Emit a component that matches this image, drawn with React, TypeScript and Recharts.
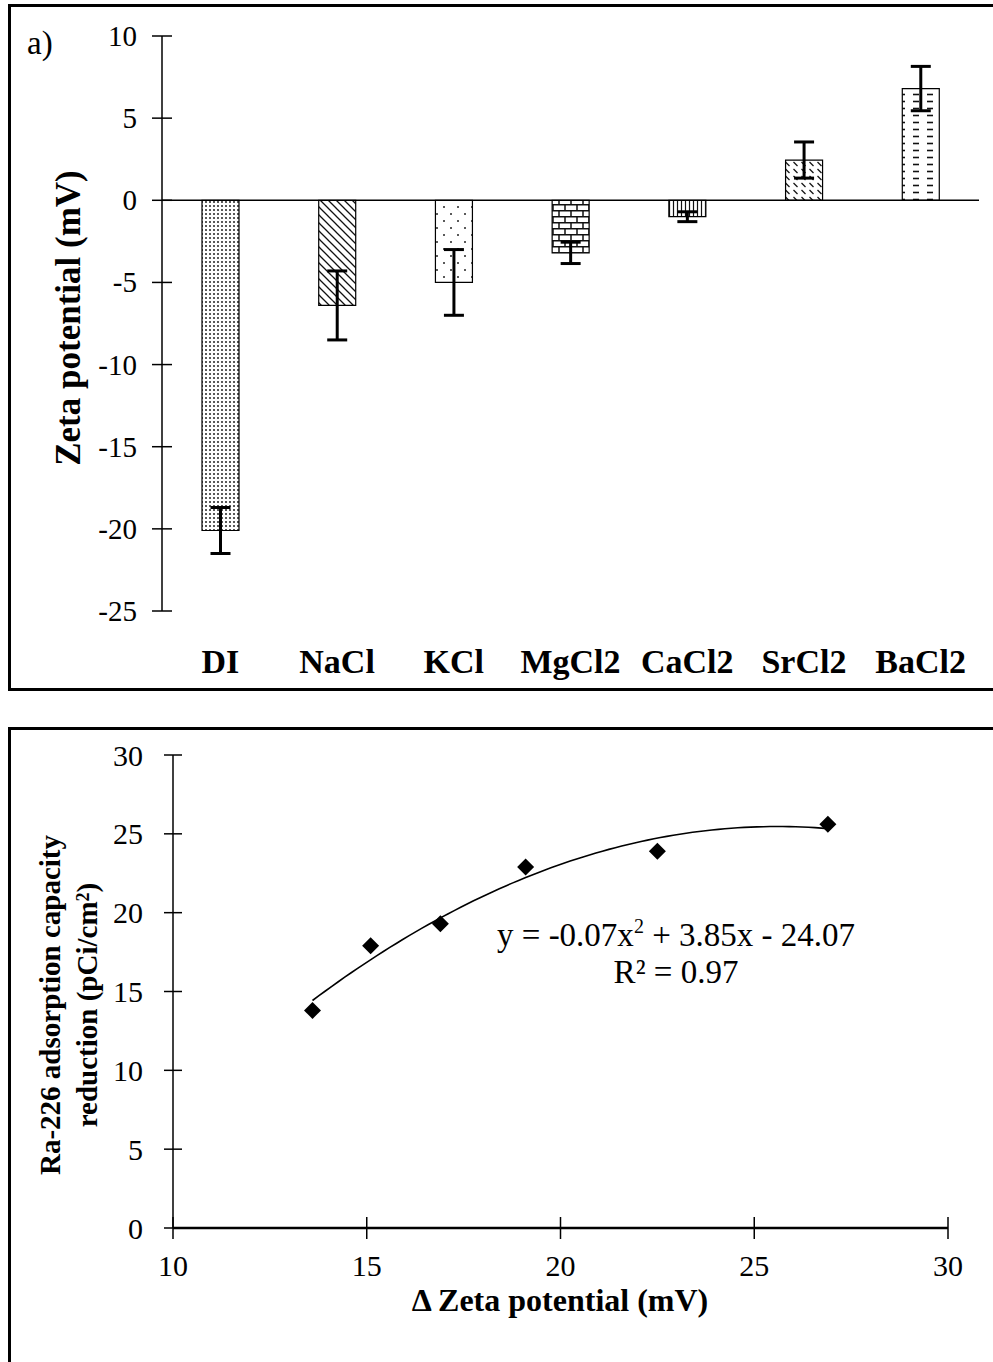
import React from 'react';
import {
  BarChart,
  Bar,
  XAxis,
  YAxis,
  Cell,
  ErrorBar,
  ReferenceLine,
  ComposedChart,
  Scatter,
  Line,
} from 'recharts';

// ---- panel a) zeta potential of the surface in each solution ----
const salts = ['DI', 'NaCl', 'KCl', 'MgCl2', 'CaCl2', 'SrCl2', 'BaCl2'];
const zeta = [-20.1, -6.4, -5.0, -3.2, -1.0, 2.45, 6.8];
const zetaErr = [1.4, 2.1, 2.0, 0.65, 0.3, 1.1, 1.35];
const zetaTicks = [-25, -20, -15, -10, -5, 0, 5, 10];

// ---- panel b) Ra-226 adsorption capacity reduction vs change of zeta potential ----
const deltaZeta = [13.6, 15.1, 16.9, 19.1, 22.5, 26.9];
const raReduction = [13.8, 17.9, 19.3, 22.9, 23.9, 25.6];
const deltaTicks = [10, 15, 20, 25, 30];
const raTicks = [0, 5, 10, 15, 20, 25, 30];

const SERIF = '"Liberation Serif", "Times New Roman", serif';

const barData = salts.map((name, i) => ({ name, v: zeta[i], err: zetaErr[i] }));
const pointData = deltaZeta.map((x, i) => ({ x, y: raReduction[i] }));

// least-squares second order polynomial through the points
function quadFit(xs: number[], ys: number[]) {
  const s = [0, 0, 0, 0, 0];
  const t = [0, 0, 0];
  xs.forEach((x, i) => {
    for (let k = 0; k < 5; k++) s[k] += Math.pow(x, k);
    for (let k = 0; k < 3; k++) t[k] += Math.pow(x, k) * ys[i];
  });
  const m = [
    [s[0], s[1], s[2], t[0]],
    [s[1], s[2], s[3], t[1]],
    [s[2], s[3], s[4], t[2]],
  ];
  for (let c = 0; c < 3; c++) {
    for (let r = c + 1; r < 3; r++) {
      const f = m[r][c] / m[c][c];
      for (let k = c; k < 4; k++) m[r][k] -= f * m[c][k];
    }
  }
  const coef = [0, 0, 0];
  for (let r = 2; r >= 0; r--) {
    let acc = m[r][3];
    for (let k = r + 1; k < 3; k++) acc -= m[r][k] * coef[k];
    coef[r] = acc / m[r][r];
  }
  return coef; // [c0, c1, c2]
}

const fit = quadFit(deltaZeta, raReduction);
const xMin = Math.min(...deltaZeta);
const xMax = Math.max(...deltaZeta);
const trendData = Array.from({ length: 81 }, (_, i) => {
  const x = xMin + ((xMax - xMin) * i) / 80;
  return { x, y: fit[0] + fit[1] * x + fit[2] * x * x };
});

const patternIds = ['p-di', 'p-nacl', 'p-kcl', 'p-mgcl2', 'p-cacl2', 'p-srcl2', 'p-bacl2'];

function Patterns() {
  return (
    <svg width={0} height={0} style={{ position: 'absolute' }}>
      <defs>
        <pattern id="p-di" width={4} height={4} patternUnits="userSpaceOnUse">
          <rect width={4} height={4} fill="#fff" />
          <circle cx={2} cy={2} r={1} fill="#222" />
        </pattern>
        <pattern id="p-nacl" width={8} height={8} patternUnits="userSpaceOnUse">
          <rect width={8} height={8} fill="#fff" />
          <path d="M0,0 L8,8 M-4,4 L4,12 M4,-4 L12,4" stroke="#111" strokeWidth={1.3} />
        </pattern>
        <pattern id="p-kcl" width={14} height={14} patternUnits="userSpaceOnUse">
          <rect width={14} height={14} fill="#fff" />
          <circle cx={3} cy={4} r={1} fill="#222" />
          <circle cx={10} cy={11} r={1} fill="#222" />
        </pattern>
        <pattern id="p-mgcl2" width={12} height={12} patternUnits="userSpaceOnUse">
          <rect width={12} height={12} fill="#fff" />
          <path d="M0,0.75 H12 M0,6.75 H12 M1,0 V6.75 M7,6.75 V12" stroke="#111" strokeWidth={1.5} />
        </pattern>
        <pattern id="p-cacl2" width={4} height={4} patternUnits="userSpaceOnUse">
          <rect width={4} height={4} fill="#fff" />
          <path d="M1.5,0 V4" stroke="#111" strokeWidth={1.2} />
        </pattern>
        <pattern id="p-srcl2" width={8} height={7} patternUnits="userSpaceOnUse">
          <rect width={8} height={7} fill="#fff" />
          <path d="M1.5,1 L5.5,5" stroke="#111" strokeWidth={1.3} />
        </pattern>
        <pattern id="p-bacl2" width={14} height={7} patternUnits="userSpaceOnUse">
          <rect width={14} height={7} fill="#fff" />
          <path d="M3,3.5 H9" stroke="#111" strokeWidth={1.6} />
        </pattern>
      </defs>
    </svg>
  );
}

const ZetaTick = (props: any) => {
  const { x, y, payload } = props;
  return (
    <g>
      <line x1={x - 10} x2={x + 10} y1={y} y2={y} stroke="#000" strokeWidth={1.5} />
      <text x={x - 25} y={y} textAnchor="end" dominantBaseline="central" fontFamily={SERIF} fontSize={29} fill="#000">
        {payload.value}
      </text>
    </g>
  );
};

const SaltTick = (props: any) => {
  const { x, y, payload } = props;
  return (
    <text x={x} y={y + 50} textAnchor="middle" dominantBaseline="central" fontFamily={SERIF} fontWeight="bold" fontSize={34} fill="#000">
      {payload.value}
    </text>
  );
};

const RaTick = (props: any) => {
  const { x, y, payload } = props;
  return (
    <g>
      <line x1={x - 9} x2={x + 9} y1={y} y2={y} stroke="#000" strokeWidth={1.5} />
      <text x={x - 30} y={y} textAnchor="end" dominantBaseline="central" fontFamily={SERIF} fontSize={30} fill="#000">
        {payload.value}
      </text>
    </g>
  );
};

const DeltaTick = (props: any) => {
  const { x, y, payload } = props;
  return (
    <g>
      <line x1={x} x2={x} y1={y - 11} y2={y + 11} stroke="#000" strokeWidth={1.5} />
      <text x={x} y={y + 37} textAnchor="middle" dominantBaseline="central" fontFamily={SERIF} fontSize={30} fill="#000">
        {payload.value}
      </text>
    </g>
  );
};

const Diamond = (props: any) => {
  const { cx, cy } = props;
  const r = 8.5;
  return <polygon points={`${cx},${cy - r} ${cx + r},${cy} ${cx},${cy + r} ${cx - r},${cy}`} fill="#000" />;
};

const textBase: React.CSSProperties = {
  position: 'absolute',
  fontFamily: SERIF,
  color: '#000',
  whiteSpace: 'nowrap',
  lineHeight: 1,
};

export default function App() {
  return (
    <div style={{ position: 'absolute', left: 0, top: 0, width: 993, height: 1362, overflow: 'hidden', background: '#fff' }}>
      <Patterns />

      {/* panel frames */}
      <div style={{ position: 'absolute', left: 8, top: 4, width: 1100, height: 687, border: '3px solid #000', boxSizing: 'border-box' }} />
      <div style={{ position: 'absolute', left: 8, top: 727, width: 1100, height: 800, border: '3px solid #000', boxSizing: 'border-box' }} />

      {/* panel a */}
      <div style={{ position: 'absolute', left: 0, top: 0 }}>
        <BarChart width={993} height={700} data={barData} margin={{ top: 36, right: 14, left: 0, bottom: 29 }} barSize={37}>
          <YAxis
            type="number"
            domain={[-25, 10]}
            ticks={zetaTicks}
            width={162}
            tickSize={0}
            tickMargin={0}
            tickLine={false}
            axisLine={{ stroke: '#000', strokeWidth: 1.5 }}
            tick={<ZetaTick />}
            interval={0}
          />
          <XAxis dataKey="name" height={60} axisLine={false} tickLine={false} tickSize={0} tickMargin={0} tick={<SaltTick />} interval={0} />
          <Bar dataKey="v" stroke="#000" strokeWidth={1.2} isAnimationActive={false}>
            {barData.map((d, i) => (
              <Cell key={d.name} fill={`url(#${patternIds[i]})`} />
            ))}
            <ErrorBar dataKey="err" width={10} strokeWidth={3} stroke="#000" direction="y" isAnimationActive={false} />
          </Bar>
          <ReferenceLine y={0} stroke="#000" strokeWidth={1.5} ifOverflow="extendDomain" />
        </BarChart>
      </div>

      <div style={{ ...textBase, left: 27, top: 27, fontSize: 33 }}>a)</div>
      <div
        style={{
          ...textBase,
          left: 68,
          top: 318,
          fontSize: 35,
          fontWeight: 'bold',
          transform: 'translate(-50%, -50%) rotate(-90deg)',
        }}
      >
        Zeta potential (mV)
      </div>

      {/* panel b */}
      <div style={{ position: 'absolute', left: 0, top: 700 }}>
        <ComposedChart width={993} height={660} margin={{ top: 55, right: 45, left: 0, bottom: 72 }}>
          <XAxis
            type="number"
            dataKey="x"
            domain={[10, 30]}
            ticks={deltaTicks}
            height={60}
            tickSize={0}
            tickMargin={0}
            tickLine={false}
            axisLine={{ stroke: '#000', strokeWidth: 2.5 }}
            tick={<DeltaTick />}
            interval={0}
            allowDataOverflow
          />
          <YAxis
            type="number"
            dataKey="y"
            domain={[0, 30]}
            ticks={raTicks}
            width={173}
            tickSize={0}
            tickMargin={0}
            tickLine={false}
            axisLine={{ stroke: '#000', strokeWidth: 1.5 }}
            tick={<RaTick />}
            interval={0}
            allowDataOverflow
          />
          <Line data={trendData} dataKey="y" type="linear" stroke="#000" strokeWidth={1.6} dot={false} activeDot={false} isAnimationActive={false} />
          <Scatter data={pointData} dataKey="y" shape={<Diamond />} isAnimationActive={false} />
        </ComposedChart>
      </div>

      <div style={{ ...textBase, left: 676, top: 935, fontSize: 33, transform: 'translate(-50%, -50%)' }}>
        y = -0.07x<sup style={{ fontSize: 20, verticalAlign: 'top', position: 'relative', top: -3 }}>2</sup> + 3.85x - 24.07
      </div>
      <div style={{ ...textBase, left: 676, top: 972, fontSize: 33, transform: 'translate(-50%, -50%)' }}>R² = 0.97</div>

      <div
        style={{
          ...textBase,
          left: 69,
          top: 1005,
          fontSize: 29,
          fontWeight: 'bold',
          lineHeight: '37px',
          textAlign: 'center',
          transform: 'translate(-50%, -50%) rotate(-90deg)',
        }}
      >
        Ra-226 adsorption capacity
        <br />
        reduction (pCi/cm<sup style={{ fontSize: 18, verticalAlign: 'top', position: 'relative', top: -4 }}>2</sup>)
      </div>
      <div style={{ ...textBase, left: 560, top: 1300, fontSize: 32, fontWeight: 'bold', transform: 'translate(-50%, -50%)' }}>
        Δ Zeta potential (mV)
      </div>
    </div>
  );
}
